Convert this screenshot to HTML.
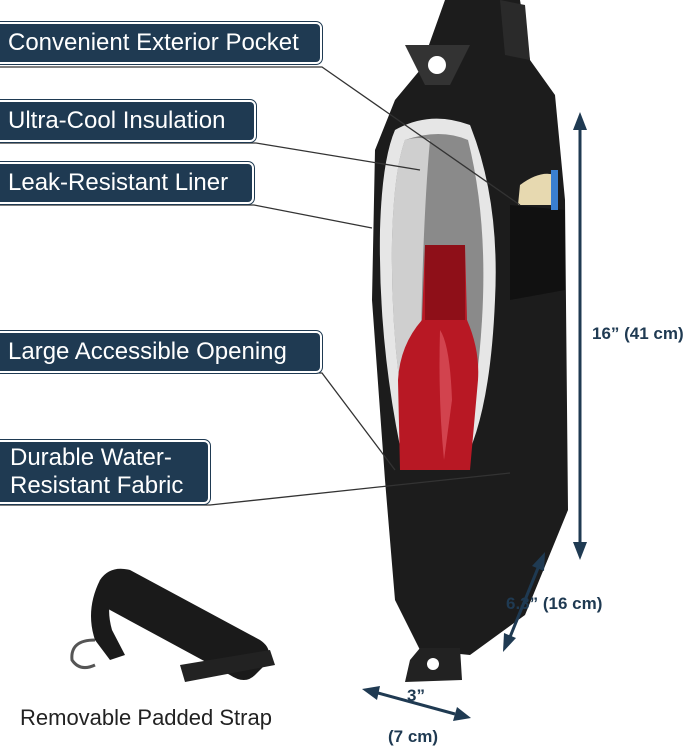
<!DOCTYPE html>
<html><head><meta charset="utf-8"><style>
html,body{margin:0;padding:0;background:#fff;}
body{width:685px;height:750px;position:relative;overflow:hidden;font-family:"Liberation Sans",sans-serif;}
.lb{position:absolute;left:0;background:#1f3a52;color:#fff;border:2px solid #fff;outline:1px solid #1f3a52;border-left:none;border-radius:0 6px 6px 0;font-size:24px;padding:0 8px;box-sizing:border-box;line-height:38px;white-space:nowrap;}
.t{position:absolute;color:#1f3a52;font-weight:bold;font-size:17px;white-space:nowrap;}
</style></head><body>
<svg width="685" height="750" style="position:absolute;left:0;top:0">
<!-- bag -->
<path d="M445 0 L520 0 L530 60 L555 95 L565 200 L568 510 L525 615 L470 655 L420 650 L395 600 L385 480 L372 300 L375 150 L395 100 L420 70 Z" fill="#1c1c1c"/>
<path d="M500 0 L525 5 L530 60 L505 55 Z" fill="#2a2a2a"/>
<path d="M405 45 L470 45 L450 85 L425 85 Z" fill="#333"/>
<circle cx="437" cy="65" r="9" fill="#fff"/>
<path d="M420 648 L460 648 L462 680 L405 682 L410 660 Z" fill="#222"/>
<circle cx="433" cy="664" r="6" fill="#fff"/>
<!-- pocket -->
<path d="M510 205 L565 210 L565 290 L510 300 Z" fill="#111"/>
<path d="M520 185 Q540 170 555 175 L555 205 L518 205 Z" fill="#e7d9b0"/>
<rect x="551" y="170" width="7" height="40" fill="#3a7fd0"/>
<!-- opening -->
<path d="M395 130 Q430 110 470 125 Q500 200 495 300 Q490 420 460 470 L405 470 Q378 350 380 230 Q382 160 395 130 Z" fill="#e6e6e6"/>
<path d="M405 140 Q440 128 468 140 Q488 220 482 320 Q476 420 455 462 L412 462 Q390 350 392 240 Q394 170 405 140 Z" fill="#8a8a8a"/>
<path d="M405 140 Q420 136 430 140 Q420 250 420 460 L412 462 Q390 350 392 240 Q394 170 405 140Z" fill="#cfcfcf"/>
<!-- bottle -->
<path d="M425 245 L465 245 L467 320 Q480 350 478 380 L470 470 L400 470 L398 380 Q400 345 422 320 Z" fill="#b81824"/>
<rect x="425" y="245" width="40" height="75" fill="#8e0f18"/>
<path d="M440 330 Q450 345 452 400 L444 460 Q438 400 440 330Z" fill="#e2606a" opacity=".6"/>
<!-- connector lines -->
<g stroke="#333" stroke-width="1.3" fill="none">
<polyline points="0,67 322,67 520,205"/>
<polyline points="0,143 256,143 420,170"/>
<polyline points="0,205 254,205 372,228"/>
<polyline points="0,373 322,373 395,470"/>
<polyline points="0,505 210,505 510,473"/>
</g>
<!-- dimension arrows -->
<g stroke="#1f3a52" stroke-width="3" fill="#1f3a52">
<line x1="580" y1="128" x2="580" y2="545"/>
<polygon points="580,112 573,130 587,130" stroke="none"/>
<polygon points="580,560 573,542 587,542" stroke="none"/>
<line x1="538" y1="568" x2="510" y2="637"/>
<polygon points="545,552 532,566 544,571" stroke="none"/>
<polygon points="503,652 504,633 516,638" stroke="none"/>
<line x1="378" y1="693" x2="455" y2="714"/>
<polygon points="362,689 380,686 377,700" stroke="none"/>
<polygon points="471,718 453,721 457,707" stroke="none"/>
</g>
<!-- strap -->
<path d="M100 580 Q110 565 130 570 L260 640 Q275 650 265 665 L255 675 Q245 685 230 675 L110 610 Q95 600 100 580 Z" fill="#1a1a1a"/>
<path d="M100 580 Q85 610 95 640 L110 660 L125 655 L112 630 Q105 605 115 590Z" fill="#1a1a1a"/>
<path d="M180 665 L270 650 L275 665 L185 682 Z" fill="#222"/>
<path d="M95 640 Q70 640 72 660 Q80 672 95 665" stroke="#555" stroke-width="3" fill="none"/>
</svg>
<div class="lb" style="top:22px;width:322px;">Convenient Exterior Pocket</div>
<div class="lb" style="top:100px;width:256px;">Ultra-Cool Insulation</div>
<div class="lb" style="top:162px;width:254px;">Leak-Resistant Liner</div>
<div class="lb" style="top:331px;width:322px;">Large Accessible Opening</div>
<div class="lb" style="top:440px;width:210px;line-height:28px;padding:2px 10px;white-space:normal;">Durable Water-Resistant Fabric</div>
<div class="t" style="left:592px;top:324px;">16” (41 cm)</div>
<div class="t" style="left:506px;top:594px;">6.3” (16 cm)</div>
<div class="t" style="left:407px;top:686px;">3”</div>
<div class="t" style="left:388px;top:727px;">(7 cm)</div>
<div style="position:absolute;left:20px;top:705px;font-size:22px;color:#222;">Removable Padded Strap</div>
</body></html>
